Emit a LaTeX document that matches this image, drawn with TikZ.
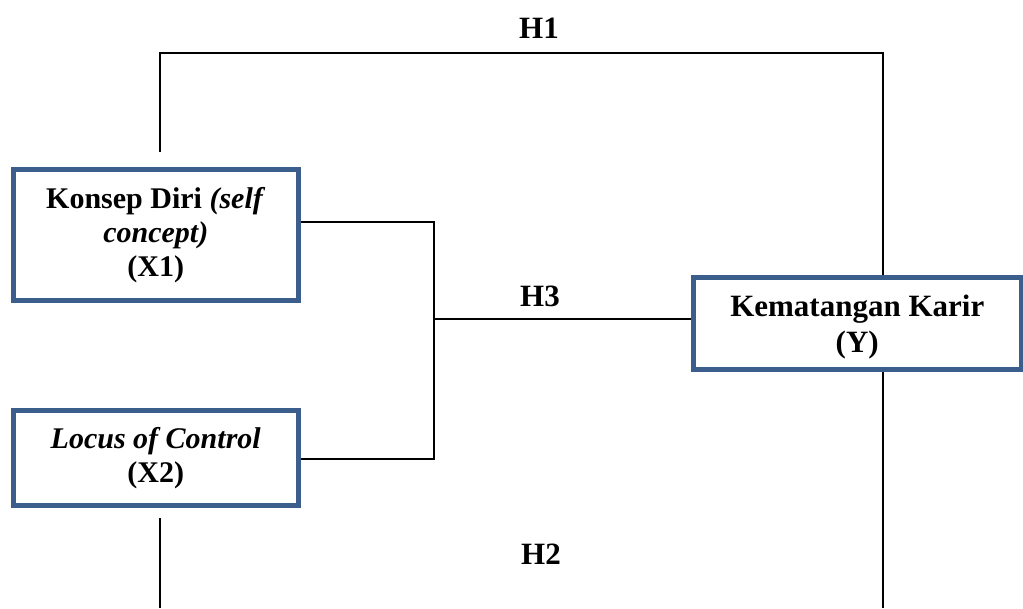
\documentclass[tikz,border=0pt]{standalone}
\usepackage{fontspec}
\setmainfont{Liberation Serif}
\definecolor{boxblue}{RGB}{59,94,140}
\begin{document}
\begin{tikzpicture}[x=1pt,y=-1pt,
  varbox/.style={draw=boxblue,line width=5pt,fill=white,rectangle,inner sep=0pt,align=center,font=\bfseries\fontsize{30}{34}\selectfont},
  conn/.style={line width=1.8pt,black},
  ytext/.style={inner sep=0pt,align=center,font=\bfseries\fontsize{31}{36}\selectfont},
  hlabel/.style={font=\bfseries\fontsize{31}{34}\selectfont,inner sep=0pt}]
\useasboundingbox (0,0) rectangle (1023,608);
\node[varbox,minimum width=284.5pt,minimum height=131pt] (X1) at (155.75,235) {Konsep Diri \textit{(self}\\\textit{concept)}\\(X1)};
\node[varbox,minimum width=284.5pt,minimum height=95pt] (X2) at (155.75,458) {\textit{Locus of Control}\\(X2)};
\node[varbox,minimum width=327.5pt,minimum height=92pt,label={[ytext,yshift=-4pt]center:Kematangan Karir\\(Y)}] (Y) at (857.25,323.5) {};
\coordinate (h1a) at (160,152);
\coordinate (h1c) at (883,53);
\coordinate (j1) at (434,222);
\coordinate (j2) at (434,459);
\coordinate (jm) at (434,319);
\coordinate (h2a) at (160,518);
\coordinate (h2b) at (160,608);
\coordinate (h2c) at (883,608);
\draw[conn] (h1a) |- (h1c) -- (h1c |- Y.north);
\draw[conn] (X1.east |- j1) -- (j1) -- (j2) -- (X2.east |- j2);
\draw[conn] (jm) -- (Y.west |- jm);
\draw[conn] (h2a) -- (h2b);
\draw[conn] (Y.south -| h2c) -- (h2c);
\node[hlabel] (H1) at (539,28) {H1};
\node[hlabel] (H3) at (540,296) {H3};
\node[hlabel] (H2) at (541,554) {H2};
\end{tikzpicture}
\end{document}
